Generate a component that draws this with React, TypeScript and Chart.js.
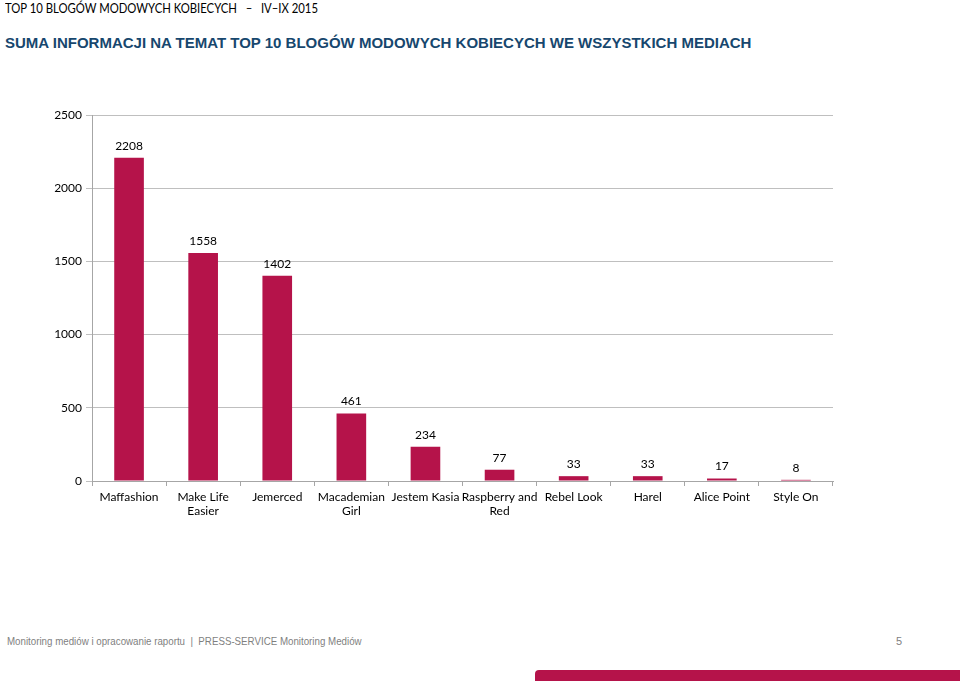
import React, { useEffect, useRef } from "react";
import { Chart, registerables } from "chart.js";

Chart.register(...registerables);

const categories: (string | string[])[] = [
  "Maffashion",
  ["Make Life", "Easier"],
  "Jemerced",
  ["Macademian", "Girl"],
  "Jestem Kasia",
  ["Raspberry and", "Red"],
  "Rebel Look",
  "Harel",
  "Alice Point",
  "Style On",
];
const values: number[] = [2208, 1558, 1402, 461, 234, 77, 33, 33, 17, 8];
const yTicks: number[] = [0, 500, 1000, 1500, 2000, 2500];

const BAR = "#B5134A";
const FONT = "Lato, 'Open Sans', sans-serif";

const labelPlugin = {
  id: "valueLabels",
  afterDatasetsDraw(chart: any) {
    const ctx = chart.ctx;
    const meta = chart.getDatasetMeta(0);
    ctx.save();
    ctx.font = `12px ${FONT}`;
    ctx.fillStyle = "#000";
    ctx.textAlign = "center";
    ctx.textBaseline = "bottom";
    meta.data.forEach((el: any, i: number) => {
      ctx.fillText(String(values[i]), el.x, el.y - 6);
    });
    ctx.restore();
  },
};

function BarChart() {
  const ref = useRef<HTMLCanvasElement>(null);
  useEffect(() => {
    if (!ref.current) return;
    const chart = new Chart(ref.current, {
      type: "bar",
      data: {
        labels: categories,
        datasets: [
          {
            data: values,
            backgroundColor: BAR,
            borderWidth: 0,
            categoryPercentage: 0.8,
            barPercentage: 0.5,
          },
        ],
      },
      options: {
        responsive: false,
        animation: false,
        layout: { padding: { top: 15, right: 27, left: 0, bottom: 0 } },
        plugins: { legend: { display: false }, tooltip: { enabled: false } },
        scales: {
          x: {
            grid: {
              drawOnChartArea: false,
              drawTicks: true,
              tickLength: 5,
              color: "#A6A6A6",
            },
            border: { color: "#A6A6A6" },
            ticks: {
              color: "#000",
              font: { family: FONT, size: 12 },
              maxRotation: 0,
              autoSkip: false,
              padding: 4,
            },
            afterFit(scale: any) {
              scale.height = 50;
            },
          },
          y: {
            min: 0,
            max: 2500,
            afterBuildTicks(scale: any) {
              scale.ticks = yTicks.map((v) => ({ value: v }));
            },
            grid: { color: "#BFBFBF", tickLength: 6, lineWidth: 1 },
            border: { color: "#A6A6A6" },
            ticks: {
              color: "#000",
              font: { family: FONT, size: 12 },
              padding: 4,
              callback: (v: any) => String(v),
            },
            afterFit(scale: any) {
              scale.width = 92;
            },
          },
        },
      },
      plugins: [labelPlugin],
    });
    return () => chart.destroy();
  }, []);
  return (
    <canvas
      ref={ref}
      width={860}
      height={431}
      style={{ position: "absolute", left: 0, top: 100, width: 860, height: 431 }}
    />
  );
}

export default function App() {
  return (
    <div
      style={{
        position: "fixed",
        left: 0,
        top: 0,
        width: 960,
        height: 681,
        background: "#fff",
        overflow: "hidden",
      }}
    >
      <div
        style={{
          position: "absolute",
          left: 5,
          top: 0,
          fontFamily: FONT,
          fontSize: 13,
          color: "#000",
          whiteSpace: "pre",
          lineHeight: "16px",
          transform: "scaleX(0.87)",
          transformOrigin: "left",
        }}
      >
        {"TOP 10 BLOGÓW MODOWYCH KOBIECYCH   –   IV–IX 2015"}
      </div>
      <div
        style={{
          position: "absolute",
          left: 5,
          top: 34,
          fontFamily: "'Liberation Sans', Arial, sans-serif",
          fontWeight: "bold",
          fontSize: 15,
          color: "#17476E",
          whiteSpace: "pre",
          lineHeight: "18px",
        }}
      >
        SUMA INFORMACJI NA TEMAT TOP 10 BLOGÓW MODOWYCH KOBIECYCH WE WSZYSTKICH MEDIACH
      </div>
      <BarChart />
      <div
        style={{
          position: "absolute",
          left: 7,
          top: 634,
          fontFamily: "'Liberation Sans', Arial, sans-serif",
          fontSize: 11,
          color: "#7F7F7F",
          whiteSpace: "pre",
          lineHeight: "14px",
          transform: "scaleX(0.885)",
          transformOrigin: "left",
        }}
      >
        {"Monitoring mediów i opracowanie raportu  |  PRESS-SERVICE Monitoring Mediów"}
      </div>
      <div
        style={{
          position: "absolute",
          left: 896,
          top: 634,
          fontFamily: "'Liberation Sans', Arial, sans-serif",
          fontSize: 11,
          color: "#7F7F7F",
          lineHeight: "14px",
        }}
      >
        5
      </div>
      <div
        style={{
          position: "absolute",
          left: 535,
          top: 670,
          width: 425,
          height: 11,
          background: BAR,
          borderTopLeftRadius: 4,
        }}
      />
    </div>
  );
}
